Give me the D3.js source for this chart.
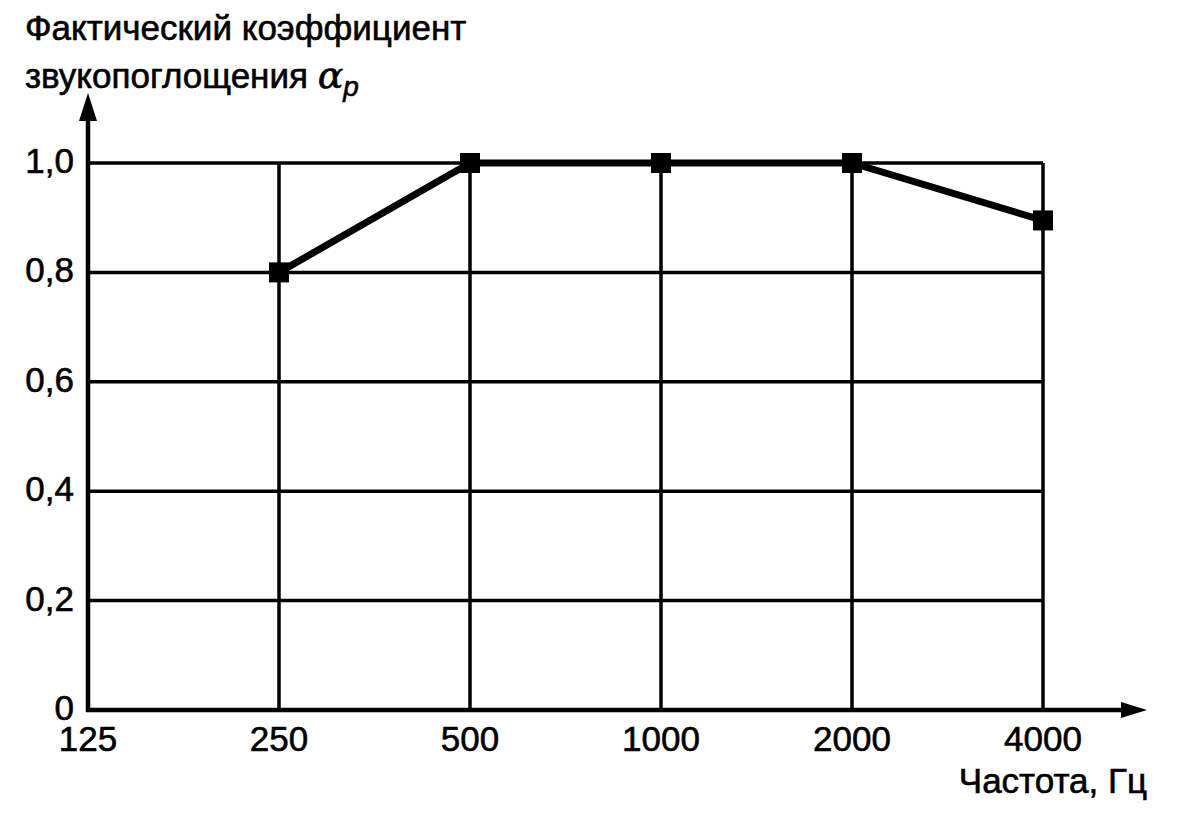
<!DOCTYPE html>
<html>
<head>
<meta charset="utf-8">
<script src="https://cdn.jsdelivr.net/npm/d3@7"></script>
<style>
  body { margin: 0; background: #fff; }
  text { font-family: "Liberation Sans", Arial, sans-serif; fill: #000; stroke: #000; stroke-width: 0.6px; }
</style>
</head>
<body>
<div id="chart"></div>
<script>
// data
const freqs = ['125', '250', '500', '1000', '2000', '4000'];
const alphaValues = [null, 0.8, 1.0, 1.0, 1.0, 0.895];
const yTicks = [0, 0.2, 0.4, 0.6, 0.8, 1.0];
const titleLines = ['Фактический коэффициент', 'звукопоглощения '];
const xTitle = 'Частота, Гц';

const width = 1185, height = 833;
const svg = d3.select('#chart').append('svg')
  .attr('width', width)
  .attr('height', height);

// scales
const x = d3.scalePoint().domain(freqs).range([88, 1043]);
const y = d3.scaleLinear().domain([0, 1]).range([710, 163]);

const fontSize = 35;

// grid - horizontal
svg.append('g')
  .selectAll('line')
  .data(yTicks.filter(d => d > 0))
  .enter().append('line')
  .attr('x1', x('125'))
  .attr('x2', x('4000'))
  .attr('y1', d => y(d))
  .attr('y2', d => y(d))
  .attr('stroke', '#000')
  .attr('stroke-width', 3.5);

// grid - vertical
svg.append('g')
  .selectAll('line')
  .data(freqs.slice(1))
  .enter().append('line')
  .attr('x1', d => x(d))
  .attr('x2', d => x(d))
  .attr('y1', y(0))
  .attr('y2', y(1))
  .attr('stroke', '#000')
  .attr('stroke-width', 3.5);

// axes with arrows
svg.append('line')
  .attr('x1', x('125')).attr('x2', x('125'))
  .attr('y1', y(0) + 2).attr('y2', 118)
  .attr('stroke', '#000').attr('stroke-width', 4.5);
svg.append('path')
  .attr('d', `M${x('125')},93 L${x('125') - 9},121 L${x('125') + 9},121 Z`)
  .attr('fill', '#000');

svg.append('line')
  .attr('x1', x('125') - 2).attr('x2', 1124)
  .attr('y1', y(0)).attr('y2', y(0))
  .attr('stroke', '#000').attr('stroke-width', 4.5);
svg.append('path')
  .attr('d', `M1147,${y(0)} L1121,${y(0) - 8} L1121,${y(0) + 8} Z`)
  .attr('fill', '#000');

// y tick labels
svg.append('g')
  .selectAll('text')
  .data(yTicks)
  .enter().append('text')
  .attr('x', 74)
  .attr('y', d => y(d) + 10)
  .attr('text-anchor', 'end')
  .attr('font-size', fontSize)
  .text(d => d === 0 ? '0' : d3.format('.1f')(d).replace('.', ','));

// x tick labels
svg.append('g')
  .selectAll('text')
  .data(freqs)
  .enter().append('text')
  .attr('x', d => x(d))
  .attr('y', 751)
  .attr('text-anchor', 'middle')
  .attr('font-size', fontSize)
  .text(d => d);

// data line
const pts = freqs.map((f, i) => ({ f: f, v: alphaValues[i] })).filter(d => d.v !== null);

svg.append('path')
  .datum(pts)
  .attr('fill', 'none')
  .attr('stroke', '#000')
  .attr('stroke-width', 7)
  .attr('d', d3.line().x(d => x(d.f)).y(d => y(d.v)));

svg.append('g')
  .selectAll('rect')
  .data(pts)
  .enter().append('rect')
  .attr('x', d => x(d.f) - 10)
  .attr('y', d => y(d.v) - 10)
  .attr('width', 20)
  .attr('height', 20)
  .attr('fill', '#000');

// titles
svg.append('text')
  .attr('x', 25).attr('y', 40)
  .attr('font-size', fontSize)
  .text(titleLines[0]);

const t2 = svg.append('text')
  .attr('x', 25).attr('y', 88)
  .attr('font-size', fontSize);
t2.append('tspan').text(titleLines[1]);
t2.append('tspan')
  .attr('font-family', '"DejaVu Serif", serif')
  .attr('font-style', 'italic')
  .attr('font-size', 38)
  .text('α');
t2.append('tspan')
  .attr('font-style', 'italic')
  .attr('font-size', 28)
  .attr('dy', 8)
  .text('p');

svg.append('text')
  .attr('x', 1147).attr('y', 793)
  .attr('text-anchor', 'end')
  .attr('font-size', fontSize)
  .text(xTitle);
</script>
</body>
</html>
